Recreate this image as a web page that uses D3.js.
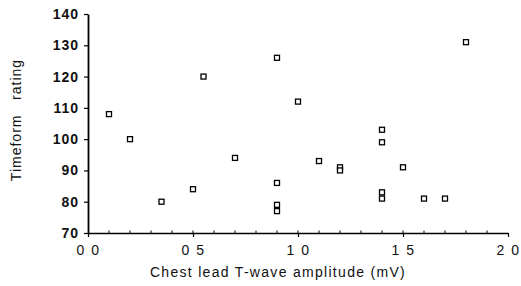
<!DOCTYPE html>
<html>
<head>
<meta charset="utf-8">
<script src="https://cdn.jsdelivr.net/npm/d3@7"></script>
<style>
  body { margin: 0; background: #fff; }
  svg text { font-family: "Liberation Sans", Arial, sans-serif; fill: #111; }
</style>
</head>
<body>
<div id="chart"></div>
<script>
// chest lead T-wave amplitude (mV) vs timeform rating
var amplitude = [0.1, 0.2, 0.35, 0.5, 0.55, 0.7, 0.9, 0.9, 0.9, 0.9, 1.0, 1.1,
                 1.2, 1.2, 1.4, 1.4, 1.4, 1.4, 1.5, 1.6, 1.7, 1.8];
var rating    = [108, 100, 80, 84, 120, 94, 126, 86, 79, 77, 112, 93,
                 91, 90, 103, 99, 83, 81, 91, 81, 81, 131];
var xTicks = [0, 0.5, 1.0, 1.5, 2.0];
var xTickLabels = ['0 0', '0 5', '1 0', '1 5', '2 0'];
var yTicks = [70, 80, 90, 100, 110, 120, 130, 140];

var width = 521, height = 286,
    margin = {top: 14, right: 13, bottom: 53, left: 88};

var svg = d3.select('#chart').append('svg')
  .attr('width', width).attr('height', height);

var x = d3.scaleLinear().domain([0, 2]).range([margin.left, width - margin.right]);
var y = d3.scaleLinear().domain([70, 140]).range([height - margin.bottom, margin.top]);

// x axis
var xAxis = svg.append('g').attr('transform', 'translate(0,' + y(70) + ')');
xAxis.call(d3.axisBottom(x).tickValues(xTicks).tickSize(4).tickSizeOuter(0)
    .tickFormat(function(d, i){ return xTickLabels[i]; }))
  .call(function(g){
    g.select('.domain').attr('stroke', '#000').attr('stroke-width', 1.6);
    g.selectAll('.tick line').attr('stroke', '#000').attr('stroke-width', 1.2);
    g.selectAll('.tick text').attr('font-size', 14).attr('dy', '1.1em')
      .attr('letter-spacing', 1.5).attr('font-family', null).attr('fill', '#222');
  });
// minor ticks pointing up
xAxis.selectAll('.minor').data(d3.range(1, 20).map(function(i){ return i / 10; }))
  .enter().append('line').attr('class', 'minor')
  .attr('x1', function(d){ return x(d); }).attr('x2', function(d){ return x(d); })
  .attr('y1', 0).attr('y2', -2.5).attr('stroke', '#000').attr('stroke-width', 1);

// y axis
var yAxis = svg.append('g').attr('transform', 'translate(' + x(0) + ',0)');
yAxis.call(d3.axisLeft(y).tickValues(yTicks).tickSize(4).tickSizeOuter(0).tickPadding(5))
  .call(function(g){
    g.select('.domain').attr('stroke', '#000').attr('stroke-width', 1.8);
    g.selectAll('.tick line').attr('stroke', '#000').attr('stroke-width', 1.2);
    g.selectAll('.tick text').attr('font-size', 14).attr('font-family', null)
      .attr('font-weight', 'bold').attr('letter-spacing', 1).attr('fill', '#222');
  });

// labels
svg.append('text')
  .attr('x', 278).attr('y', 277)
  .attr('text-anchor', 'middle').attr('font-size', 14).attr('letter-spacing', 1.3)
  .text('Chest lead T-wave amplitude (mV)');

svg.append('text')
  .attr('transform', 'translate(21,' + 120 + ') rotate(-90)')
  .attr('text-anchor', 'middle').attr('font-size', 14).attr('letter-spacing', 1)
  .attr('xml:space', 'preserve')
  .text('Timeform   rating');

// points
svg.append('g').selectAll('rect').data(amplitude)
  .enter().append('rect')
  .attr('x', function(d){ return x(d) - 2.5; })
  .attr('y', function(d, i){ return y(rating[i]) - 2.5; })
  .attr('width', 5).attr('height', 5)
  .attr('fill', '#fff').attr('stroke', '#000').attr('stroke-width', 1.3);
</script>
</body>
</html>
